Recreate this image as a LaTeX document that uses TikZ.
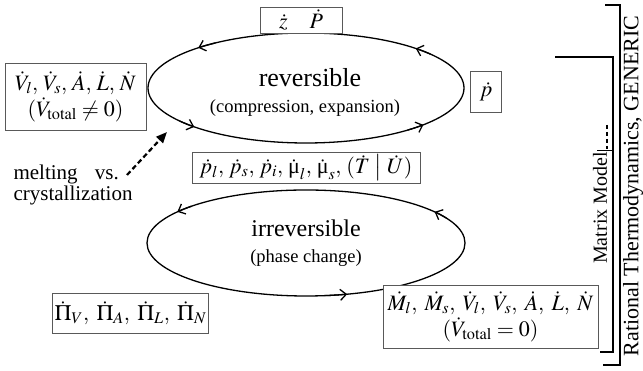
\documentclass[tikz,border=0pt]{standalone}
\usepackage{mathptmx}
\usepackage{fontspec}
\setmainfont{Liberation Serif}
\usetikzlibrary{arrows.meta, shapes.geometric}
\newcommand{\qsep}{,\mkern2mu}
\newcommand{\wsep}{,\;}

\begin{document}
\begin{tikzpicture}[x=1pt, y=1pt,
    qbox/.style={draw=black!65, line width=0.6pt, fill=white,
                 inner sep=2pt, align=center,
                 font=\fontsize{22}{26}\selectfont},
    cycleline/.style={ellipse, draw, line width=1.3pt, inner sep=0pt},
    barb/.style={-{Straight Barb[length=6pt, width=11pt]}, line width=1.3pt},
    title/.style={font=\fontsize{#1}{28}\selectfont},
    subtitle/.style={font=\fontsize{18.5}{21}\selectfont},
    bracket/.style={line width=1.6pt},
    side/.style={rotate=90, font=\fontsize{#1}{24}\selectfont},
    hint/.style={-{Triangle[length=11pt, width=9pt]}, line width=2.2pt,
                 dash pattern=on 5pt off 3pt},
  ]
  \useasboundingbox (0,0) rectangle (643,371);
  % the two cycles
  \node[cycleline, minimum width=316, minimum height=110] (rev) at (306,283) {};
  \node[cycleline, minimum width=318, minimum height=106] (irr) at (306,128) {};
  \foreach \a in {46,133,225,318}
    \draw[barb] (rev.center) ++(\a-8:158 and 55)
      arc[start angle=\a-8, end angle=\a, x radius=158, y radius=55];
  \foreach \a in {36,144,285}
    \draw[barb] (irr.center) ++(\a-8:159 and 53)
      arc[start angle=\a-8, end angle=\a, x radius=159, y radius=53];
  \node[title=26] (revname) at (310,293) {reversible};
  \node[subtitle] (revsub) at (305,263) {(compression, expansion)};
  \node[title=24] (irrname) at (306,143) {irreversible};
  \node[subtitle] (irrsub) at (306,113) {(phase change)};
  % quantity boxes
  \node[qbox, minimum width=82, minimum height=26] (zp) at (301,351) {$\dot z\quad\dot P$};
  \node[qbox, minimum width=31, minimum height=41] (pp) at (486,279) {$\dot p$};
  \node[qbox, minimum width=141, minimum height=67] (vleft) at (75.5,274.5)
    {$\dot V_l\qsep \dot V_s\qsep \dot A\qsep \dot L\qsep \dot N$\\$(\dot V_{\mathrm{total}}\neq 0)$};
  \node[qbox, minimum width=228, minimum height=30] (mid) at (306,203)
    {$\dot p_l\qsep \dot p_s\qsep \dot p_i\qsep \dot{\mbox{μ}}_l\qsep \dot{\mbox{μ}}_s\qsep (\dot T\;\big|\;\dot U)$};
  \node[qbox, minimum width=153, minimum height=40] (pi) at (130.5,58)
    {$\dot\Pi_V\wsep \dot\Pi_A\wsep \dot\Pi_L\wsep \dot\Pi_N$};
  \node[qbox, minimum width=215, minimum height=63] (vright) at (490.5,54.5)
    {$\dot M_l\wsep \dot M_s\wsep \dot V_l\wsep \dot V_s\wsep \dot A\wsep \dot L\wsep \dot N$\\$(\dot V_{\mathrm{total}} = 0)$};
  % phase transition hint
  \node[align=left, font=\fontsize{21}{21}\selectfont] (melt) at (73,186)
    {melting\hspace{12pt} vs.\\crystallization};
  \coordinate (mvtail) at (127,196);
  \coordinate (mvtip) at (167,239);
  \draw[hint] (mvtail) -- (mvtip);
  % model ranges
  \draw[bracket] (555,314) -- (613,314) -- (613,19) -- (600,19);
  \draw[line width=2pt, dash pattern=on 4pt off 3pt] (607,246) -- (607,222);
  \draw[line width=0.6pt] (597,221) -- (613,221);
  \node[side=20] (mm) at (600,163) {Matrix Model};
  \draw[bracket] (605,366) -- (620,366) -- (620,6) -- (603,6);
  \node[side=22] (rt) at (633,185) {Rational Thermodynamics, GENERIC};
\end{tikzpicture}
\end{document}
